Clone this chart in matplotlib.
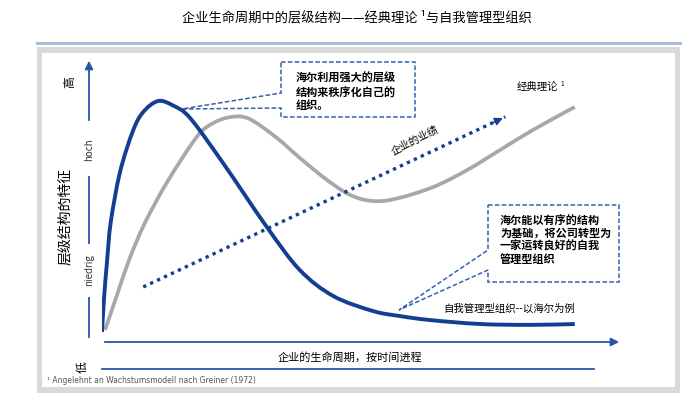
import matplotlib
matplotlib.use("Agg")
import matplotlib.pyplot as plt
from matplotlib.patches import Rectangle, Polygon, FancyArrowPatch, PathPatch
from matplotlib.path import Path

plt.rcParams['font.family'] = ['Noto Sans CJK SC', 'DejaVu Sans']

# curves, x = life cycle time (0-100), y = hierarchy level (0-100)
classic_x = [0.6, 3.1, 5.4, 8.3, 12.6, 18.4, 21.6, 25.2, 28.7, 34.0, 38.4, 43.7,
             48.2, 52.4, 56.9, 64.3, 70.9, 77.3, 83.7, 91.8]
classic_y = [3.9, 17.3, 29.3, 41.6, 56.0, 72.1, 77.0, 79.2, 78.4, 71.7, 64.7, 56.9,
             51.6, 49.5, 50.2, 54.4, 60.4, 67.5, 74.6, 82.7]
haier_x = [0.0, 0.4, 1.0, 1.7, 3.5, 6.0, 8.0, 10.9, 13.8, 17.1, 23.5, 32.0, 38.4,
           44.9, 52.6, 57.9, 63.7, 73.4, 83.1, 91.8]
haier_y = [3.2, 15.2, 28.6, 42.0, 59.7, 74.2, 80.9, 84.8, 83.2, 78.8, 62.9, 40.3,
           25.1, 15.9, 10.6, 8.8, 7.4, 6.0, 5.7, 6.0]
trend_x = [8.0, 78.3]
trend_y = [19.1, 79.2]

title = "企业生命周期中的层级结构——经典理论 ¹与自我管理型组织"
ylabel = "层级结构的特征"
xlabel = "企业的生命周期，按时间进程"
note1 = "海尔利用强大的层级\n结构来秩序化自己的\n组织。"
note2 = "海尔能以有序的结构\n为基础，将公司转型为\n一家运转良好的自我\n管理型组织"

dark_blue = "#143f91"
axis_blue = "#2a55a5"
gray = "#a8a8a8"


def smooth_path(xs, ys):
    # cubic bezier through the read points (catmull-rom tangents)
    pts = list(zip(xs, ys))
    verts = [pts[0]]
    codes = [Path.MOVETO]
    n = len(pts)
    for i in range(n - 1):
        p0 = pts[max(i - 1, 0)]
        p1 = pts[i]
        p2 = pts[i + 1]
        p3 = pts[min(i + 2, n - 1)]
        c1 = (p1[0] + (p2[0] - p0[0]) / 6, p1[1] + (p2[1] - p0[1]) / 6)
        c2 = (p2[0] - (p3[0] - p1[0]) / 6, p2[1] - (p3[1] - p1[1]) / 6)
        verts += [c1, c2, p2]
        codes += [Path.CURVE4] * 3
    return Path(verts, codes)


fig = plt.figure(figsize=(7, 4.15), dpi=100)

# background layer in pixel coordinates
deco = fig.add_axes([0, 0, 1, 1], zorder=0)
deco.set_xlim(0, 700)
deco.set_ylim(415, 0)
deco.axis("off")

deco.text(357, 18, title, ha="center", va="center", fontsize=9.5)
deco.plot([37, 680], [43, 43], color="#aabbdc", lw=2.2)
deco.add_patch(Rectangle((37, 47), 643, 346, color="#dadada", lw=0))
deco.add_patch(Rectangle((42, 53), 633, 334, color="white", lw=0))

# y axis pieces
deco.annotate("", xy=(89, 58), xytext=(89, 123),
              arrowprops=dict(arrowstyle="-|>", color=axis_blue, lw=1.3, mutation_scale=12))
deco.plot([89, 89], [177, 243], color=axis_blue, lw=1.3)
deco.plot([89, 89], [298, 337], color=axis_blue, lw=1.3)
deco.text(70, 82, "高", rotation=90, ha="center", va="center", fontsize=8.5)
deco.text(82, 367, "低", rotation=90, ha="center", va="center", fontsize=8.5)
deco.text(89, 150, "hoch", rotation=90, ha="center", va="center", fontsize=7, color="#333333")
deco.text(89, 270, "niedrig", rotation=90, ha="center", va="center", fontsize=7, color="#333333")
deco.text(65, 216, ylabel, rotation=90, ha="center", va="center", fontsize=10)

# x axis
deco.annotate("", xy=(622, 342), xytext=(102, 342),
              arrowprops=dict(arrowstyle="-|>", color=axis_blue, lw=1.3, mutation_scale=12))
deco.text(350, 357, xlabel, ha="center", va="center", fontsize=8)
deco.plot([102, 594], [369, 369], color=axis_blue, lw=1.3)
deco.text(47, 380, "¹ Angelehnt an Wachstumsmodell nach Greiner (1972)",
          ha="left", va="center", fontsize=5.5, color="#555555", family="DejaVu Sans")

# callouts
box1 = [(281, 62), (415, 62), (415, 117), (281, 117), (281, 108), (182, 109), (281, 93)]
deco.add_patch(Polygon(box1, closed=True, fill=False, ec="#3560ae", lw=1.1, ls=(0, (3, 1.5))))
deco.text(296, 92, note1, ha="left", va="center", fontsize=8, fontweight="bold", linespacing=1.05)
box2 = [(488, 205), (619, 205), (619, 282), (488, 282), (488, 270), (399, 310), (488, 250)]
deco.add_patch(Polygon(box2, closed=True, fill=False, ec="#3560ae", lw=1.1, ls=(0, (3, 1.5))))
deco.text(500, 240, note2, ha="left", va="center", fontsize=8, fontweight="bold", linespacing=1.0)

deco.text(443, 309, "自我管理型组织--以海尔为例", ha="left", va="center", fontsize=7.5)
deco.text(517, 87, "经典理论", ha="left", va="center", fontsize=7.5)
deco.text(560, 84, "1", ha="left", va="center", fontsize=4.5)

# data layer
ax = fig.add_axes([102 / 700, 1 - 341 / 415, 515 / 700, 283 / 415], zorder=1)
ax.set_xlim(0, 100)
ax.set_ylim(0, 100)
ax.patch.set_alpha(0)
ax.axis("off")

ax.add_patch(PathPatch(smooth_path(classic_x, classic_y), fill=False, ec=gray, lw=2.7,
                       capstyle="butt", joinstyle="round"))
ax.add_patch(PathPatch(smooth_path(haier_x, haier_y), fill=False, ec=dark_blue, lw=2.8,
                       capstyle="butt", joinstyle="round"))
ax.plot(trend_x, trend_y, color=dark_blue, lw=2.4, ls=(0, (1, 1.3)))
ax.add_patch(FancyArrowPatch(
    (trend_x[0] + 0.96 * (trend_x[1] - trend_x[0]), trend_y[0] + 0.96 * (trend_y[1] - trend_y[0])),
    (trend_x[1], trend_y[1]), arrowstyle="-|>", mutation_scale=12, color=dark_blue, lw=1))
ax.text(60.8, 71.0, "企业的业绩", rotation=27, ha="center", va="center", fontsize=7.5)

fig.savefig("out.png", dpi=100)
